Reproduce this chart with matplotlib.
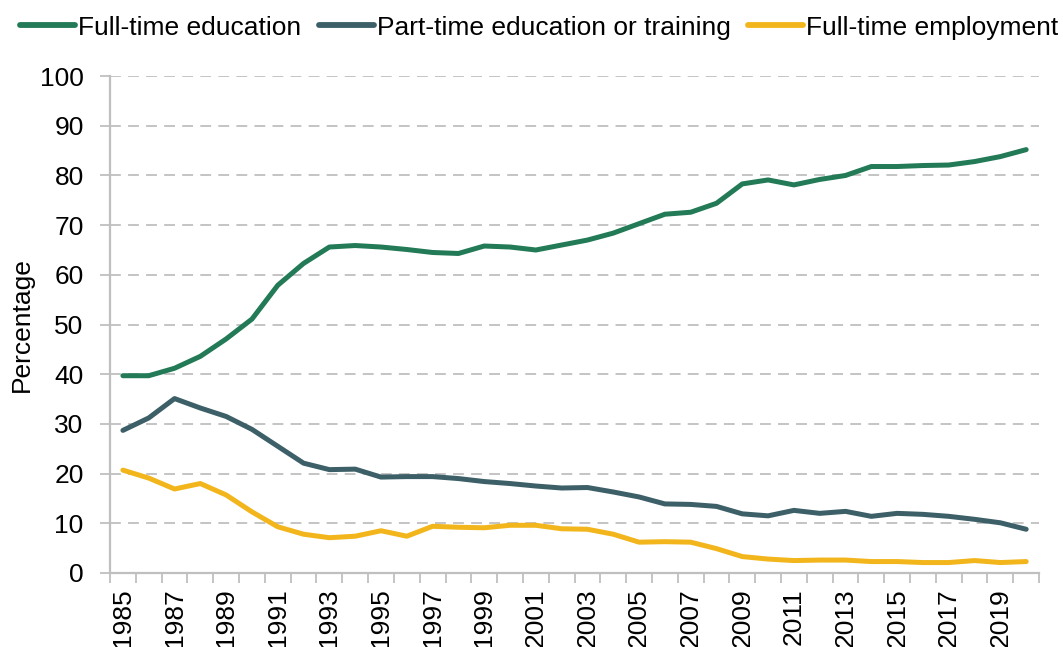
import numpy as np
import matplotlib.pyplot as plt

plt.rcParams['font.family'] = ['Liberation Sans', 'DejaVu Sans']

years = list(range(1985, 2021))
full_time_edu = [39.7, 39.7, 41.2, 43.6, 47.1, 51.1, 57.9, 62.3, 65.6, 65.9,
                 65.6, 65.1, 64.5, 64.3, 65.8, 65.6, 65.0, 66.0, 67.0, 68.4,
                 70.3, 72.2, 72.6, 74.4, 78.3, 79.1, 78.1, 79.2, 80.0, 81.8,
                 81.8, 82.0, 82.1, 82.8, 83.8, 85.2]
part_time_edu = [28.7, 31.2, 35.1, 33.2, 31.5, 28.9, 25.5, 22.1, 20.8, 20.9,
                 19.3, 19.4, 19.4, 19.0, 18.4, 18.0, 17.5, 17.1, 17.2, 16.3,
                 15.3, 13.9, 13.8, 13.4, 11.9, 11.5, 12.6, 12.0, 12.4, 11.4,
                 12.0, 11.8, 11.4, 10.8, 10.1, 8.8]
full_time_emp = [20.7, 19.1, 16.9, 18.0, 15.7, 12.3, 9.3, 7.8, 7.1, 7.4,
                 8.5, 7.4, 9.4, 9.2, 9.1, 9.6, 9.6, 8.9, 8.8, 7.8,
                 6.2, 6.3, 6.2, 4.9, 3.3, 2.8, 2.5, 2.6, 2.6, 2.3,
                 2.3, 2.1, 2.1, 2.5, 2.1, 2.3]

colors = ['#237A57', '#3D6068', '#F2B61C']
labels = ['Full-time education', 'Part-time education or training', 'Full-time employment']
grey = '#BFBFBF'

fig = plt.figure(figsize=(10.63, 6.47), dpi=100)
ax = fig.add_axes([0.1035, 0.1144, 0.874, 0.768])

x = np.arange(len(years))
for series, c, lab in zip([full_time_edu, part_time_edu, full_time_emp], colors, labels):
    ax.plot(x, series, color=c, lw=3.6, label=lab, solid_capstyle='round', solid_joinstyle='round')

ax.set_xlim(-0.5, len(years) - 0.5)
ax.set_ylim(0, 100)
ax.set_yticks(range(0, 101, 10))
ax.yaxis.grid(True, color=grey, lw=1.3, linestyle=(0, (6, 4)))
ax.set_axisbelow(True)

# tick marks at category boundaries, labels every second year
ax.set_xticks(np.arange(-0.5, len(years), 1.0))
ax.set_xticklabels([])
ax.set_xticks(x[::2], minor=True)
ax.set_xticklabels([str(y) for y in years[::2]], minor=True, rotation=90)
ax.tick_params(axis='x', which='major', length=7, color=grey, width=1.3)
ax.tick_params(axis='x', which='minor', length=0, pad=11, labelsize=19)
ax.tick_params(axis='y', length=7, color=grey, width=1.3, labelsize=19, pad=12)

for s in ['top', 'right']:
    ax.spines[s].set_visible(False)
for s in ['left', 'bottom']:
    ax.spines[s].set_color(grey)
    ax.spines[s].set_linewidth(1.6)

ax.set_ylabel('Percentage', fontsize=19, labelpad=4)

leg = fig.legend(loc='upper left', bbox_to_anchor=(20 / 1063, 0.976), ncol=3, frameon=False,
                 fontsize=19, handlelength=2.08, handletextpad=0.11, columnspacing=0.68,
                 borderaxespad=0, borderpad=0)
for h in leg.get_lines():
    h.set_linewidth(4.2)

fig.savefig('out.png', dpi=100)
